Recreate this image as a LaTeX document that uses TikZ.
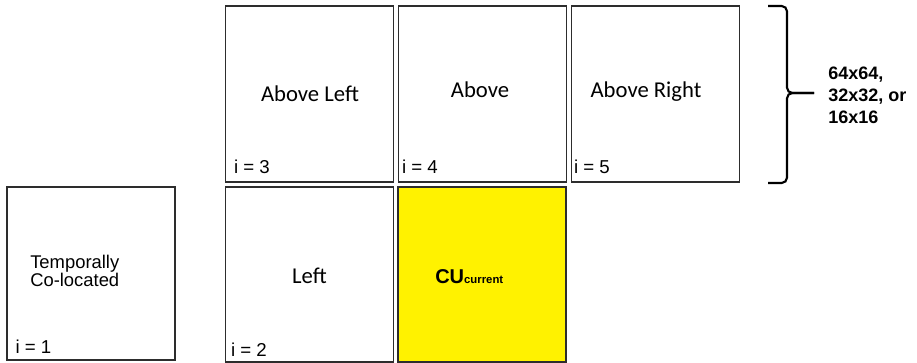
\documentclass[tikz,border=0pt]{standalone}
\usepackage{fontspec}
\setmainfont{Liberation Sans}
\newfontfamily\calibfont{Carlito}
\usepackage{tikz}
\usetikzlibrary{positioning,calc}
\definecolor{cuyellow}{RGB}{255,242,0}
\definecolor{edgegray}{RGB}{45,45,45}

\tikzset{
  blk/.style={draw=edgegray, line width=1.1pt, minimum width=168*0.75pt, minimum height=176*0.75pt, inner sep=0pt},
  blkname/.style={font=\calibfont\fontsize{17}{20}\selectfont, anchor=base, inner sep=0pt},
  idx/.style={font=\fontsize{14}{16}\selectfont, anchor=base west, inner sep=0pt},
  brace/.style={draw=black, line width=1.6pt, rounded corners=4pt},
}

\begin{document}
\begin{tikzpicture}[x=0.75pt, y=-0.75pt]
        \useasboundingbox (0,0) rectangle (917,363);

        % upper row
        \node[blk] (aboveleft) at (309.5,94) {};
        \node[blk] (above) at (482.5,94) {};
        \node[blk] (aboveright) at (655.5,94) {};

        % lower row
        \node[blk, minimum height=175*0.75pt] (left) at (309.5,274.5) {};
        \node[blk, minimum height=175*0.75pt, fill=cuyellow] (current) at (482,274.5) {};
        \node[blk, minimum height=173*0.75pt] (colocated) at (91,273.5) {};

        % block names
        \node[blkname] (naboveleft) at (310,102) {Above Left};
        \node[blkname] (nabove) at (480,98) {Above};
        \node[blkname] (naboveright) at (646,98) {Above Right};
        \node[blkname] (nleft) at (309.5,283) {Left};
        \node[font=\fontsize{13.8}{13.5}\selectfont, align=left, anchor=north west, inner sep=0pt] (ncolocated) at (30,255) {Temporally\\Co-located};
        \node[font=\bfseries\fontsize{15}{18}\selectfont, anchor=base west, inner sep=0pt] (ncurrent) at (435,283)
            {CU{\fontsize{8.5}{10}\selectfont\raisebox{-0.5pt}{current}}};

        % candidate indices
        \node[idx] (i1) at ([shift={(9,-7)}]colocated.south west) {i = 1};
        \node[idx] (i2) at ([shift={(6,-6)}]left.south west) {i = 2};
        \node[idx] (i3) at ([shift={(9,-9)}]aboveleft.south west) {i = 3};
        \node[idx] (i4) at ([shift={(4,-9)}]above.south west) {i = 4};
        \node[idx] (i5) at ([shift={(3,-9)}]aboveright.south west) {i = 5};

        % size brace
        \coordinate (bracetop) at (768,6);
        \coordinate (bracebot) at (768,183);
        \coordinate (bracetip) at (814,93);
        \draw[brace] (bracetop) -- (787,6) -- (787,93) -- (bracetip);
        \draw[brace] (bracebot) -- (787,183) -- (787,93) -- (bracetip);

        \node[font=\bfseries\fontsize{13.5}{16.5}\selectfont, align=left, anchor=west, inner sep=0pt] (sizes) at (828,95) {64x64,\\32x32, or\\16x16};
\end{tikzpicture}
\end{document}
